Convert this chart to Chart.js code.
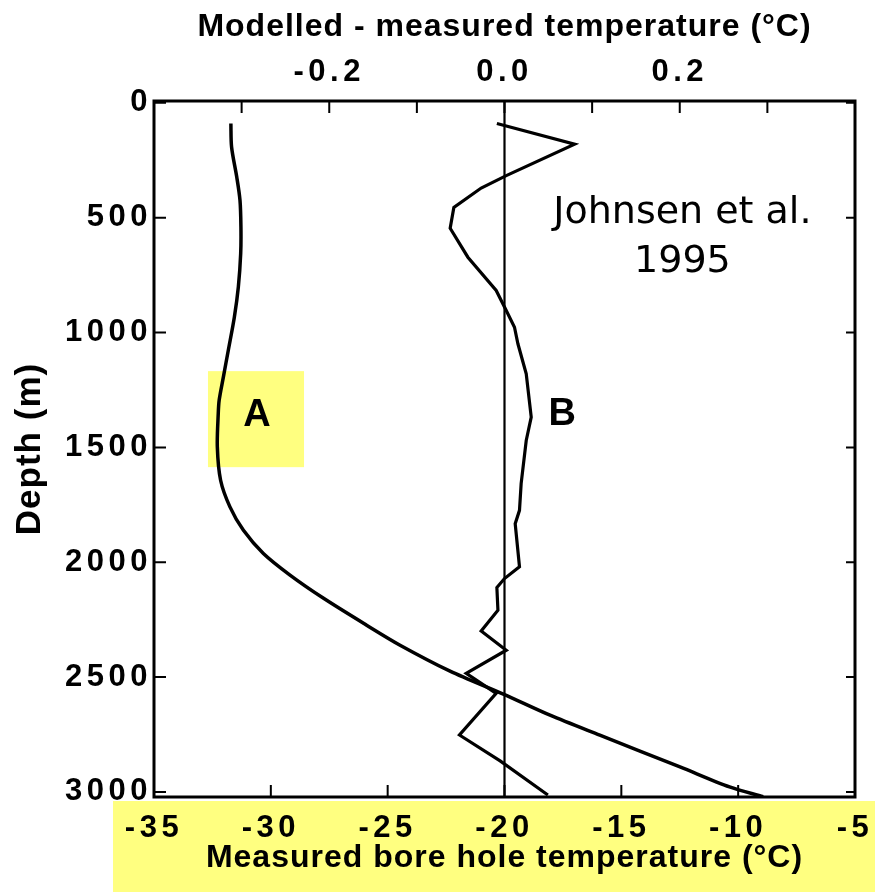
<!DOCTYPE html>
<html>
<head>
<meta charset="utf-8">
<script src="https://cdn.jsdelivr.net/npm/chart.js@4.4.1/dist/chart.umd.min.js"></script>
<style>
  html, body { margin: 0; padding: 0; background: #ffffff; }
  #wrap { width: 875px; height: 892px; }
</style>
</head>
<body>
<div id="wrap"><canvas id="c" width="875" height="892"></canvas></div>
<script>
// ---- Data ----
// Curve A: measured bore hole temperature (bottom axis) vs depth
const depthA = [90, 192, 322, 424, 540, 656, 801, 932, 1077, 1193, 1294, 1352, 1498, 1643, 1759, 1860, 1962, 2056, 2156, 2274, 2361, 2474, 2574, 2666, 2753, 2891, 2978, 3021];
const tempA  = [-31.71, -31.68, -31.46, -31.32, -31.28, -31.29, -31.39, -31.56, -31.82, -32.03, -32.21, -32.25, -32.29, -32.15, -31.75, -31.18, -30.32, -29.18, -27.76, -25.90, -24.47, -22.33, -20.05, -18.05, -15.92, -12.49, -10.37, -8.93];

// Curve B: modelled - measured temperature (top axis) vs depth
const depthB = [90, 180, 317, 371, 455, 546, 672, 817, 904, 977, 1049, 1180, 1368, 1470, 1658, 1774, 1832, 2020, 2071, 2110, 2209, 2299, 2383, 2484, 2571, 2752, 2865, 3013];
const diffB  = [-0.0087, 0.080, 0.002, -0.0266, -0.0578, -0.062, -0.0418, -0.0095, 0.002, 0.0114, 0.0153, 0.0248, 0.0305, 0.0248, 0.019, 0.0171, 0.0122, 0.0171, 0.0, -0.0087, -0.0075, -0.0266, 0.002, -0.0437, -0.0095, -0.0514, -0.0050, 0.0495];

// Axis ranges and ticks
const depthRange = [-8, 3022];
const tempRange = [-35, -5];
const diffRange = [-0.4, 0.4];
const depthTicks = [0, 500, 1000, 1500, 2000, 2500, 3000];
const tempTicks = [-35, -30, -25, -20, -15, -10, -5];
const tempTickLabels = ['-35', '-30', '-25', '-20', '-15', '-10', '-5'];
const diffTicks = [-0.3, -0.2, -0.1, 0.0, 0.1, 0.2, 0.3];
const diffTickLabels = ['', '-0.2', '', '0.0', '', '0.2', ''];

// Zero reference line of the top axis
const zeroLineX = [0, 0];

// Annotations (data coordinates)
const labelA = { text: 'A', x: -30.59, y: 1361 };
const labelB = { text: 'B', x: 0.066, y: 1358 };
const noteLines = ['Johnsen et al.', '1995'];
const noteX = 0.203;
const noteY = [478, 693];
const boxA = { x0: -32.69, x1: -28.58, y0: 1168, y1: 1586 };

const boldFont = 'Liberation Sans, Arial, Helvetica, sans-serif';
const YELLOW = 'rgb(255,255,128)';

const framePlugin = {
  id: 'frame',
  beforeDraw(chart) {
    const ctx = chart.ctx;
    ctx.letterSpacing = '1px';
    ctx.save();
    ctx.fillStyle = YELLOW;
    // yellow band behind the bottom axis labels
    ctx.fillRect(113, chart.chartArea.bottom + 4, chart.width - 113, chart.height - chart.chartArea.bottom - 4);
    // yellow highlight box behind label A
    const xs = chart.scales.x, ys = chart.scales.y;
    const bx0 = xs.getPixelForValue(boxA.x0), bx1 = xs.getPixelForValue(boxA.x1);
    const by0 = ys.getPixelForValue(boxA.y0), by1 = ys.getPixelForValue(boxA.y1);
    ctx.fillRect(bx0, by0, bx1 - bx0, by1 - by0);
    ctx.restore();
  },
  afterDatasetsDraw(chart) {
    const ctx = chart.ctx;
    const a = chart.chartArea;
    ctx.save();
    ctx.letterSpacing = '0px';
    ctx.strokeStyle = '#000';
    ctx.lineWidth = 2;
    ctx.beginPath();
    const xs = chart.scales.x;
    xs.ticks.forEach(t => {
      const px = xs.getPixelForValue(t.value);
      ctx.moveTo(px, a.bottom); ctx.lineTo(px, a.bottom - 12);
    });
    const xt = chart.scales.x2;
    xt.ticks.forEach(t => {
      const px = xt.getPixelForValue(t.value);
      ctx.moveTo(px, a.top); ctx.lineTo(px, a.top + 12);
    });
    const ys = chart.scales.y;
    ys.ticks.forEach(t => {
      const py = ys.getPixelForValue(t.value);
      ctx.moveTo(a.left, py); ctx.lineTo(a.left + 12, py);
      ctx.moveTo(a.right, py); ctx.lineTo(a.right - 9, py);
    });
    ctx.stroke();
    ctx.lineWidth = 3;
    ctx.strokeRect(a.left, a.top, a.right - a.left, a.bottom - a.top);
    ctx.restore();
    // tick labels (drawn next, z = 1) get a wide letter spacing
    ctx.letterSpacing = '4.5px';
  },
  afterDraw(chart) {
    const ctx = chart.ctx;
    ctx.letterSpacing = '0px';
    const xs = chart.scales.x, xt = chart.scales.x2, ys = chart.scales.y;
    ctx.save();
    ctx.fillStyle = '#000';
    ctx.textAlign = 'center';
    ctx.textBaseline = 'middle';
    ctx.font = 'bold 38px ' + boldFont;
    ctx.fillText(labelA.text, xs.getPixelForValue(labelA.x), ys.getPixelForValue(labelA.y));
    ctx.fillText(labelB.text, xt.getPixelForValue(labelB.x), ys.getPixelForValue(labelB.y));
    ctx.font = '38px "DejaVu Sans", sans-serif';
    noteLines.forEach((s, i) => {
      ctx.fillText(s, xt.getPixelForValue(noteX), ys.getPixelForValue(noteY[i]));
    });
    ctx.restore();
  }
};

const ctx = document.getElementById('c').getContext('2d');
new Chart(ctx, {
  type: 'scatter',
  data: {
    datasets: [
      {
        label: 'A',
        data: depthA.map((d, i) => ({ x: tempA[i], y: d })),
        xAxisID: 'x', yAxisID: 'y',
        showLine: true, borderColor: '#000', borderWidth: 3.5,
        pointRadius: 0, tension: 0.3, fill: false
      },
      {
        label: 'B',
        data: depthB.map((d, i) => ({ x: diffB[i], y: d })),
        xAxisID: 'x2', yAxisID: 'y',
        showLine: true, borderColor: '#000', borderWidth: 3.2,
        pointRadius: 0, tension: 0, fill: false, borderJoinStyle: 'miter'
      },
      {
        label: 'zero',
        data: zeroLineX.map((v, i) => ({ x: v, y: depthRange[i] })),
        xAxisID: 'x2', yAxisID: 'y',
        showLine: true, borderColor: '#000', borderWidth: 2.2,
        pointRadius: 0, fill: false
      }
    ]
  },
  options: {
    responsive: false,
    animation: false,
    devicePixelRatio: 1,
    layout: { padding: { left: 0, right: 20, top: 0, bottom: 0 } },
    plugins: { legend: { display: false }, tooltip: { enabled: false } },
    scales: {
      x: {
        type: 'linear', position: 'bottom',
        min: tempRange[0], max: tempRange[1],
        afterBuildTicks: s => { s.ticks = tempTicks.map(v => ({ value: v })); },
        afterFit: s => { s.height = 95; },
        grid: { display: false },
        border: { display: false },
        ticks: {
          z: 1, autoSkip: false, maxRotation: 0, padding: 5, color: '#000',
          font: { family: boldFont, size: 31, weight: 'bold' },
          callback: v => tempTickLabels[tempTicks.indexOf(v)]
        },
        title: {
          display: true, text: 'Measured bore hole temperature (°C)', color: '#000',
          font: { family: boldFont, size: 32, weight: 'bold' },
          padding: { top: 0, bottom: 15 }
        }
      },
      x2: {
        type: 'linear', position: 'top',
        min: diffRange[0], max: diffRange[1],
        afterBuildTicks: s => { s.ticks = diffTicks.map(v => ({ value: v })); },
        afterFit: s => { s.height = 101; },
        grid: { display: false },
        border: { display: false },
        ticks: {
          z: 1, autoSkip: false, maxRotation: 0, padding: 2, color: '#000',
          font: { family: boldFont, size: 31, weight: 'bold' },
          callback: (v, i) => diffTickLabels[i]
        },
        title: {
          display: true, text: 'Modelled - measured temperature (°C)', color: '#000',
          font: { family: boldFont, size: 32, weight: 'bold' },
          padding: { top: 8, bottom: 0 }
        }
      },
      y: {
        type: 'linear', position: 'left', reverse: true,
        min: depthRange[0], max: depthRange[1],
        afterBuildTicks: s => { s.ticks = depthTicks.map(v => ({ value: v })); },
        afterFit: s => { s.width = 154; },
        grid: { display: false },
        border: { display: false },
        ticks: {
          z: 1, autoSkip: false, padding: -6, color: '#000',
          font: { family: boldFont, size: 31, weight: 'bold' },
          callback: v => String(v)
        },
        title: {
          display: true, text: 'Depth (m)', color: '#000',
          font: { family: boldFont, size: 35, weight: 'bold' },
          padding: { top: 9, bottom: 0 }
        }
      }
    }
  },
  plugins: [framePlugin]
});
</script>
</body>
</html>
